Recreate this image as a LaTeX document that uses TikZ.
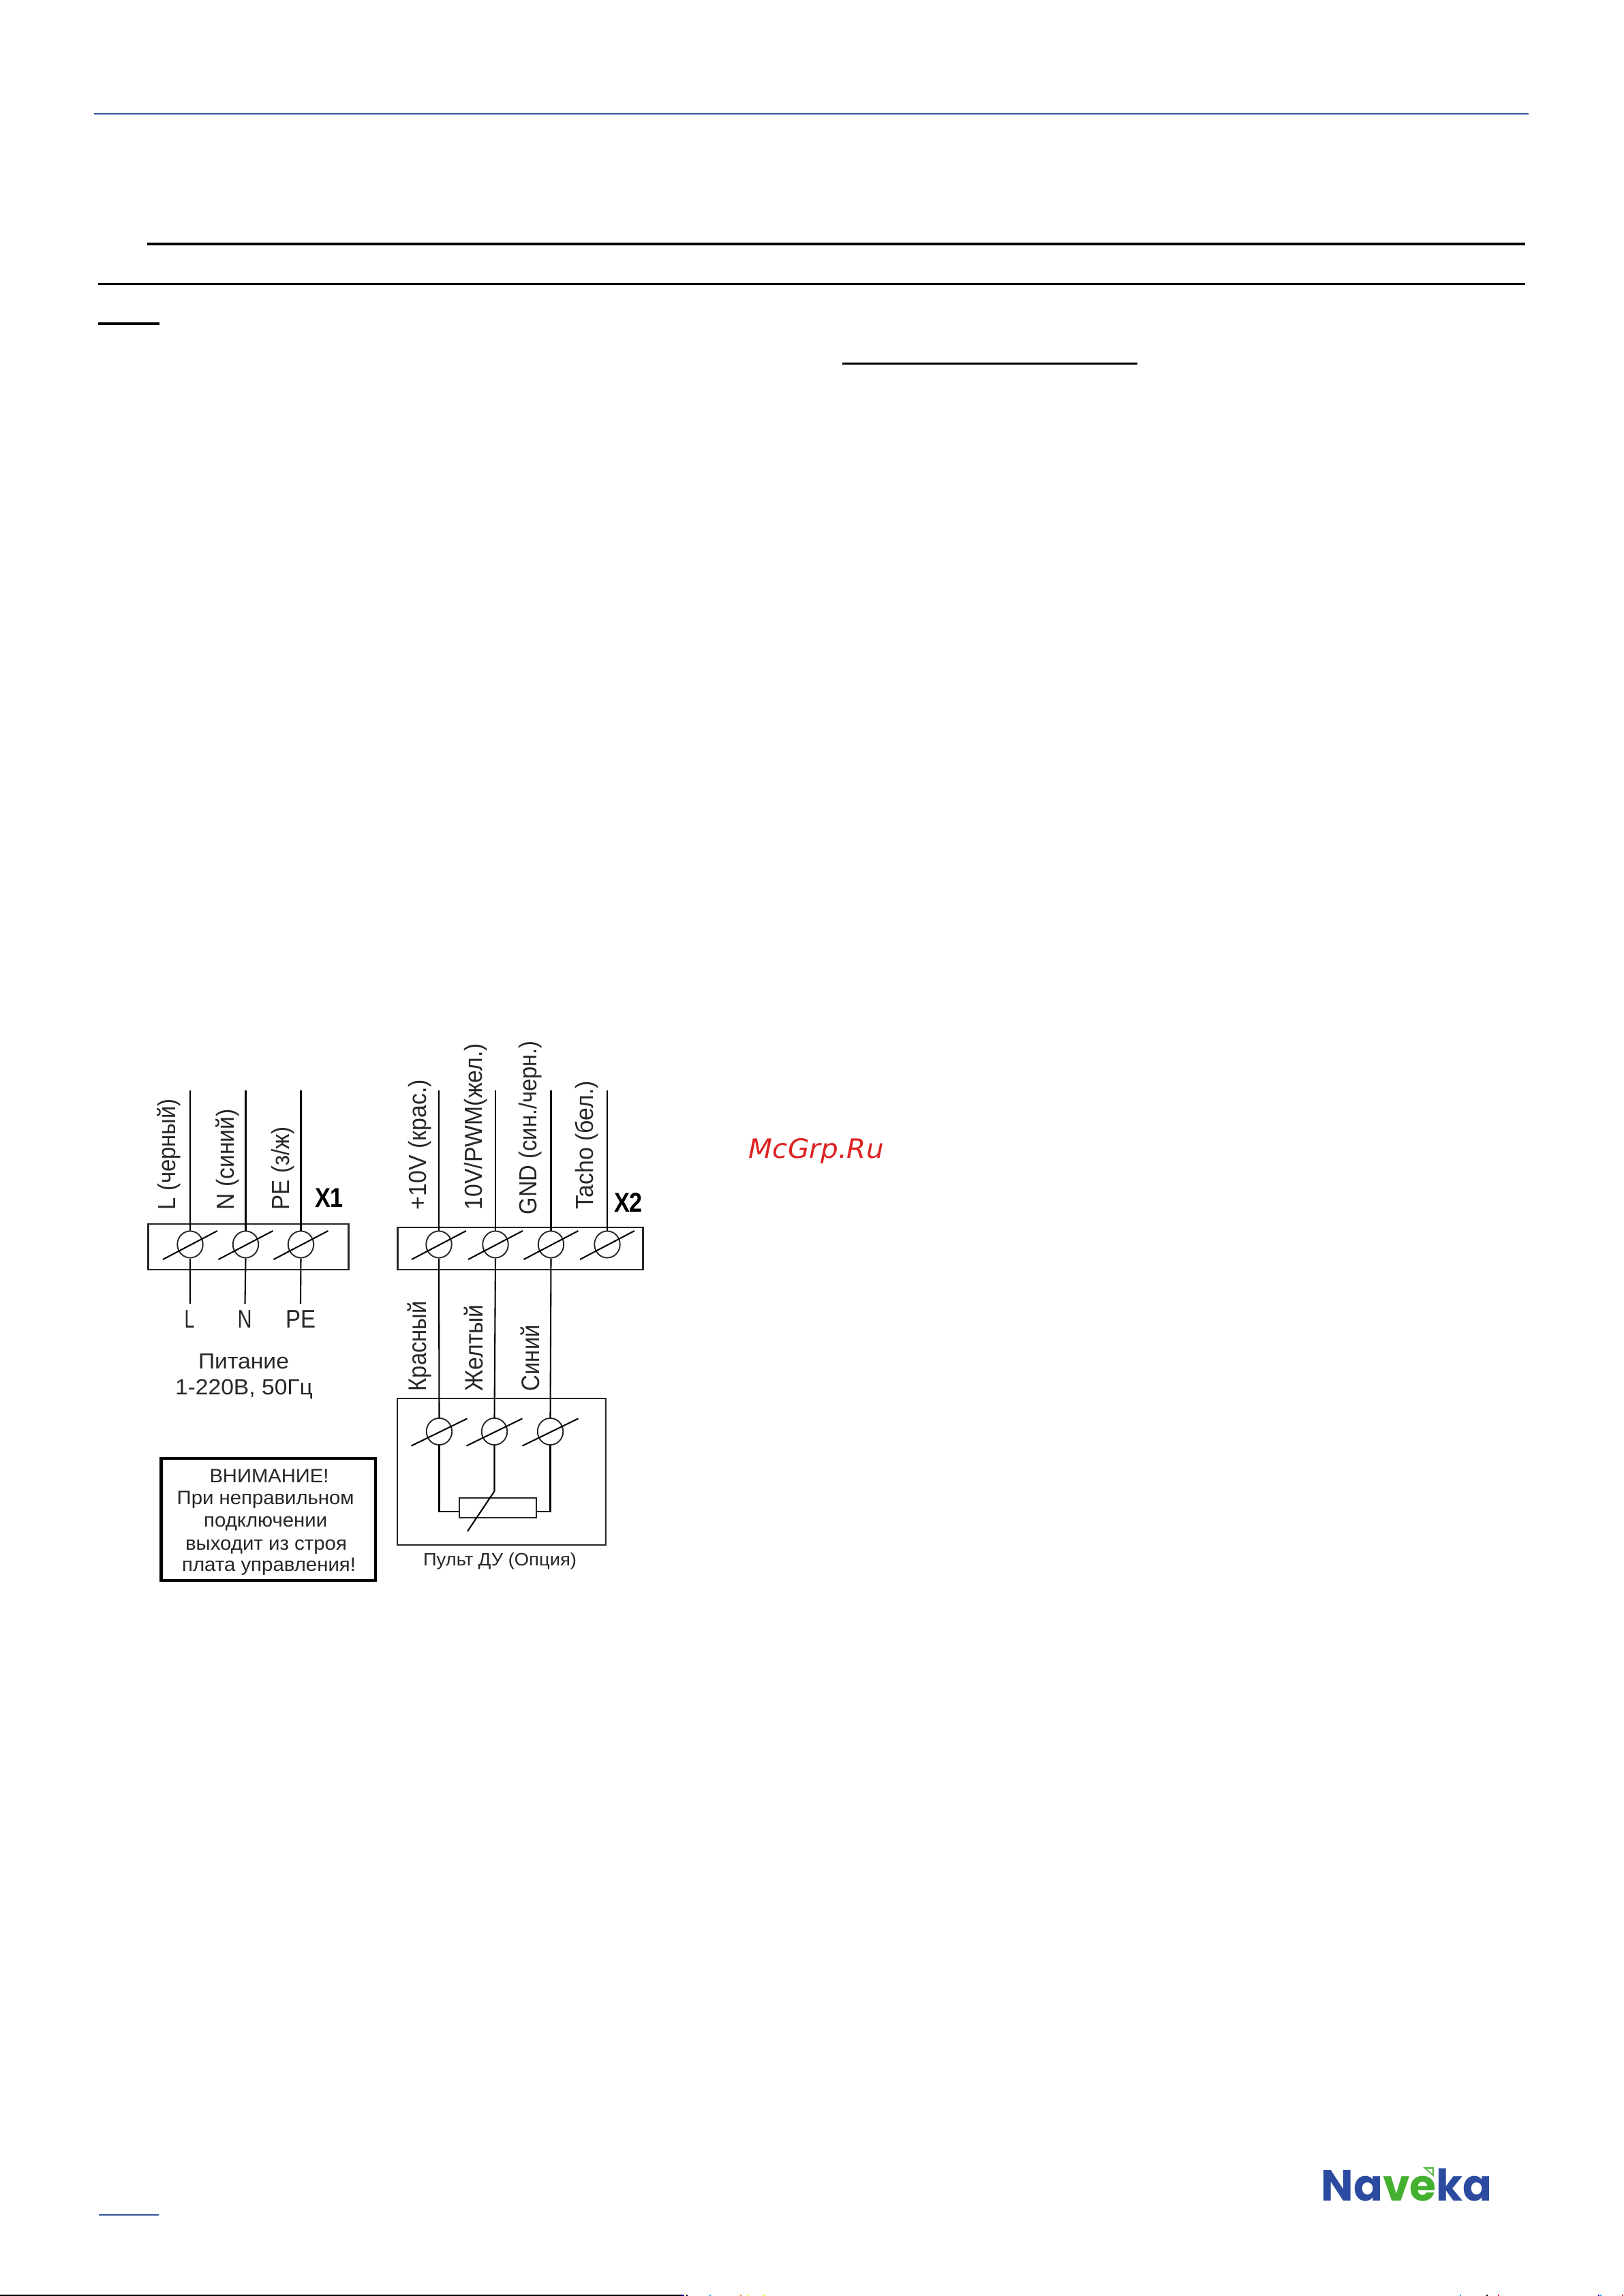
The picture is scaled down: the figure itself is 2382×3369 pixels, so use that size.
\documentclass[tikz,border=0pt]{standalone}
\usepackage{graphicx}
\usepackage{fontspec}
\setmainfont{Liberation Sans}
\newfontfamily\wmfont{DejaVu Sans}
\newfontfamily\logofont{Poppins}
\usetikzlibrary{calc,shapes.geometric}
\definecolor{hdrblue}{HTML}{2F5597}
\definecolor{lblue}{HTML}{2B4BA0}
\definecolor{lgreen}{HTML}{43B02F}
\definecolor{wmred}{HTML}{DD2222}
\definecolor{inkgrey}{HTML}{262626}
\newsavebox{\wbox}
% set text horizontally scaled to a target width given in reference pixels
\newcommand{\wtxt}[2]{\sbox{\wbox}{#2}\pgfmathsetmacro{\wfac}{#1*0.24/\the\wd\wbox}\scalebox{\wfac}[1]{\usebox{\wbox}}}
\tikzset{
  x=0.24pt, y=-0.24pt,
  wire/.style={line width=0.5pt, black},
  boxline/.style={draw=black!85, line width=0.6pt, rectangle, inner sep=0pt},
  screwc/.style={draw=black!85, line width=0.45pt, ellipse, minimum width=9pt, minimum height=9.4pt, inner sep=0pt},
  vlabel/.style={rotate=90, anchor=base west, inner sep=0pt, text=inkgrey, font=\fontsize{8.7pt}{10pt}\selectfont},
  hlabel/.style={anchor=base, inner sep=0pt, text=inkgrey},
  warnline/.style={hlabel, font=\fontsize{6.8pt}{8pt}\selectfont},
  blabel/.style={anchor=center, inner sep=0pt, text=black, font=\fontsize{9.6pt}{11pt}\selectfont\bfseries},
}
\begin{document}
\begin{tikzpicture}
\useasboundingbox (0,0) rectangle (2382,3369);
\fill[white] (0,0) rectangle (2382,3369);
% page rules
\coordinate (h1) at (138,167); \coordinate (h2) at (2243,167);
\draw[hdrblue, line width=0.5pt] (h1) -- (h2);
\coordinate (a1) at (216,358); \coordinate (a2) at (2238,358);
\draw[black, line width=0.95pt] (a1) -- (a2);
\coordinate (b1) at (144,416); \coordinate (b2) at (2238,416);
\draw[black, line width=0.72pt] (b1) -- (b2);
\coordinate (c1) at (144,475); \coordinate (c2) at (234,475);
\draw[black, line width=0.95pt] (c1) -- (c2);
\coordinate (d1) at (1236,533); \coordinate (d2) at (1669,533);
\draw[black, line width=0.72pt] (d1) -- (d2);
\coordinate (f1) at (144.5,3250); \coordinate (f2) at (233,3250);
\draw[hdrblue, line width=0.5pt] (f1) -- (f2);
\coordinate (g1) at (0,3368); \coordinate (g2) at (1004,3368);
\draw[black, line width=0.5pt] (g1) -- (g2);
% bottom-edge specks
\foreach \sx/\sc in {1000/blue,1007/black,1041/cyan,1086/orange,1096/yellow,1120/yellow,2142/cyan,2181/black,2198/red,2345/blue,2348/cyan,2380/red}
  \fill[\sc] (\sx,3367) rectangle ++(2,2);
% X1 terminal block
\node[boxline, minimum width=70.6pt, minimum height=16.1pt] (xa) at (364.5,1829.5) {};
\foreach \n/\x/\lx in {1/279/279,2/360.5/359.5,3/441.5/441} {
  \node[screwc] (sa\n) at (\x,1826) {};
  \coordinate (ta\n) at (\x,1600);
  \coordinate (ba\n) at (\lx,1913);
  \draw[wire] (ta\n) -- (sa\n.north);
  \draw[wire] (sa\n.south) -- (ba\n);
  \draw[wire] ($(sa\n)+(-40,22)$) -- ($(sa\n)+(40,-20)$);
}
\node[vlabel] (la1) at (257.5,1776) {\wtxt{163}{L (черный)}};
\node[vlabel] (la2) at (343,1776) {\wtxt{148}{N (синий)}};
\node[vlabel] (la3) at (424,1776) {\wtxt{122}{PE (з/ж)}};
\node[blabel] (x1lab) at (483,1758) {\wtxt{42}{X1}};
\node[hlabel, font=\fontsize{9pt}{10pt}\selectfont] (ll) at (278,1948) {\wtxt{15}{L}};
\node[hlabel, font=\fontsize{9pt}{10pt}\selectfont] (ln) at (359,1948) {\wtxt{21}{N}};
\node[hlabel, font=\fontsize{9pt}{10pt}\selectfont] (lpe) at (441,1948) {\wtxt{44}{PE}};
\node[hlabel, font=\fontsize{7.7pt}{9pt}\selectfont] (pw1) at (357.5,2008) {\wtxt{133}{Питание}};
\node[hlabel, font=\fontsize{7.7pt}{9pt}\selectfont] (pw2) at (358,2046) {\wtxt{202}{1-220В, 50Гц}};
% X2 terminal block
\node[boxline, minimum width=86.3pt, minimum height=14.9pt] (xb) at (763.5,1832) {};
\foreach \n/\x in {1/644,2/727,3/808.5,4/891} {
  \node[screwc] (sb\n) at (\x,1826) {};
  \coordinate (tb\n) at (\x,1600);
  \draw[wire] (tb\n) -- (sb\n.north);
  \draw[wire] ($(sb\n)+(-40,22)$) -- ($(sb\n)+(40,-20)$);
}
\node[vlabel] (lb1) at (625,1776) {\wtxt{191}{+10V (крас.)}};
\node[vlabel] (lb2) at (707.5,1776) {\wtxt{244}{10V/PWM(жел.)}};
\node[vlabel] (lb3) at (787.5,1783) {\wtxt{255}{GND (син./черн.)}};
\node[vlabel] (lb4) at (870,1775) {\wtxt{188}{Tacho (бел.)}};
\node[blabel] (x2lab) at (922,1765) {\wtxt{42}{X2}};
% remote control box
\node[boxline, minimum width=73.4pt, minimum height=51.6pt] (rc) at (736,2159.5) {};
\foreach \n/\x in {1/644.5,2/725.5,3/807.5} {
  \node[screwc] (sc\n) at (\x,2100.5) {};
  \draw[wire] (sb\n.south) -- (sc\n.north);
  \draw[wire] ($(sc\n)+(-41,21)$) -- ($(sc\n)+(41,-19)$);
}
\node[draw=black!85, line width=0.55pt, rectangle, inner sep=0pt, minimum width=27.1pt, minimum height=7pt] (res) at (730.5,2212.5) {};
\coordinate (r1) at (644.5,2218);
\coordinate (r2) at (807.5,2218);
\draw[wire] (sc1.south) -- (r1) -- (res.west |- r1);
\draw[wire] (sc3.south) -- (r2) -- (res.east |- r2);
\coordinate (wk) at (725.5,2188);
\coordinate (we) at (686,2247);
\draw[wire] (sc2.south) -- (wk) -- (we);
\node[vlabel, font=\fontsize{8.9pt}{10pt}\selectfont] (lc1) at (625,2042) {\wtxt{132}{Красный}};
\node[vlabel, font=\fontsize{8.9pt}{10pt}\selectfont] (lc2) at (708,2042) {\wtxt{127}{Желтый}};
\node[vlabel, font=\fontsize{8.9pt}{10pt}\selectfont] (lc3) at (791,2042) {\wtxt{97}{Синий}};
\node[hlabel, font=\fontsize{6.3pt}{8pt}\selectfont] (rclab) at (733.5,2297) {\wtxt{225}{Пульт ДУ (Опция)}};
% warning box
\node[draw=black, line width=1.1pt, rectangle, inner sep=0pt, minimum width=75.5pt, minimum height=43pt] (warn) at (393.5,2229.5) {};
\node[warnline] (w1) at (395,2175) {\wtxt{175}{ВНИМАНИЕ!}};
\node[warnline] (w2) at (389.7,2207) {\wtxt{260}{При неправильном}};
\node[warnline] (w3) at (389.7,2240) {\wtxt{181}{подключении}};
\node[warnline] (w4) at (390.5,2274) {\wtxt{237}{выходит из строя}};
\node[warnline] (w5) at (394.6,2305) {\wtxt{255}{плата управления!}};
% watermark
\node[anchor=base west, inner sep=0pt, text=wmred, font=\wmfont\itshape\fontsize{9.4pt}{11pt}\selectfont] (wm) at (1098,1699) {\wtxt{198}{McGrp.Ru}};
% logo
\node[anchor=base west, inner sep=0pt, font=\logofont\bfseries\fontsize{15.4pt}{17pt}\selectfont] (logo) at (1938,3229) {\wtxt{251}{\textcolor{lblue}{Na}\textcolor{lgreen}{ve}\textcolor{lblue}{ka}}};
\fill[lgreen!85] (2088,3180) -- (2104,3180) -- (2104,3194) -- cycle;
\fill[white] (2094,3182.5) -- (2101.5,3182.5) -- (2101.5,3189) -- cycle;
\end{tikzpicture}
\end{document}
